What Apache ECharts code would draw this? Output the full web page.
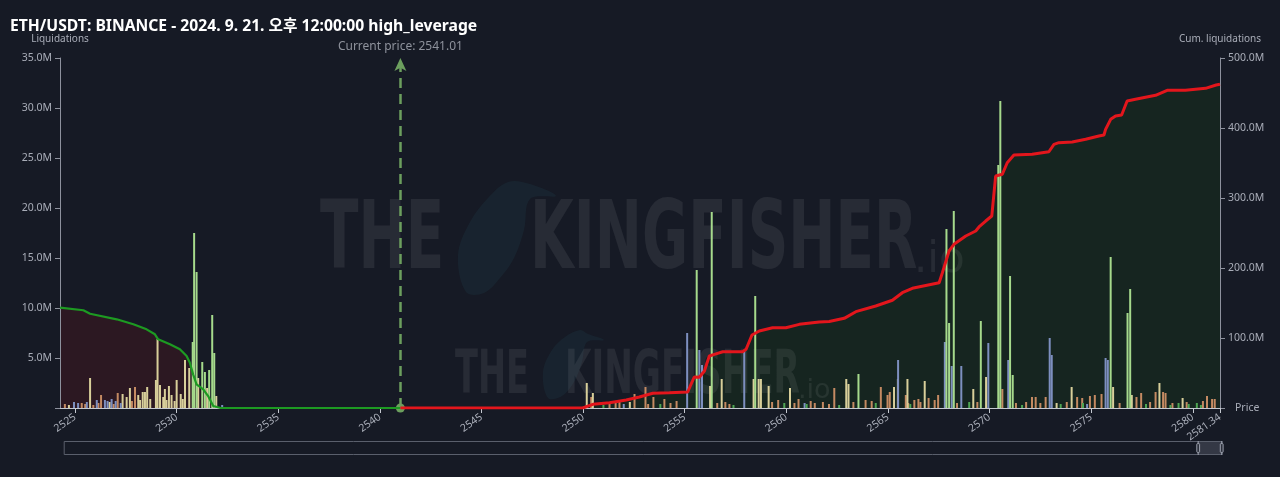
<!DOCTYPE html>
<html><head><meta charset="utf-8">
<script src="https://cdn.jsdelivr.net/npm/echarts@6/dist/echarts.min.js"></script>
<style>html,body{margin:0;padding:0;background:#161a25;}#c{width:1280px;height:477px;}</style>
</head><body><div id="c"></div>
<script>
const titleText = 'ETH/USDT: BINANCE - 2024. 9. 21. 오후 12:00:00 high_leverage';
const currentPrice = 2541.01;
const priceMin = 2524.26;
const priceMax = 2581.34;
const priceTicks = [2525, 2530, 2535, 2540, 2545, 2550, 2555, 2560, 2565, 2570, 2575, 2580, 2581.34];

// cumulative liquidations (M) below current price
const longCum = [[2524.26,143.5],[2525.41,139.6],[2525.74,134.7],[2527.05,126.7],[2527.87,119.6],[2528.52,112.4],[2528.93,105.3],[2529.09,98.1],[2529.67,91.0],[2530.16,83.9],[2530.49,74.3],[2530.65,64.7],[2530.81,48.1],[2530.98,33.9],[2531.31,26.7],[2531.55,17.1],[2531.80,2.9],[2532.13,0.3],[2541.01,0]];
// cumulative liquidations (M) above current price
const shortCum = [[2541.01,0],[2549.98,0],[2550.48,5.3],[2551.30,7.6],[2552.12,11.4],[2552.77,15.7],[2553.43,21.0],[2554.25,21.9],[2555.15,22.9],[2555.31,33.9],[2555.47,44.3],[2555.72,44.0],[2555.97,52.9],[2556.21,74.3],[2556.46,76.7],[2556.87,80.4],[2557.85,80.4],[2558.02,83.9],[2558.31,104.3],[2558.67,110.0],[2559.32,114.7],[2559.98,114.7],[2560.64,119.5],[2561.62,122.9],[2562.11,123.5],[2562.85,128.1],[2563.42,137.6],[2564.40,145.7],[2565.22,153.9],[2565.71,164.7],[2566.20,171.0],[2566.86,175.0],[2567.52,179.0],[2567.68,193.3],[2568.01,224.3],[2568.25,233.9],[2568.83,245.7],[2569.32,252.9],[2569.48,258.6],[2569.81,267.1],[2570.11,274.3],[2570.30,331.4],[2570.63,333.9],[2570.87,350.4],[2571.20,361.4],[2572.10,362.4],[2572.92,366.1],[2573.17,376.7],[2573.41,379.0],[2574.07,380.0],[2574.73,383.9],[2575.38,388.6],[2575.63,390.0],[2575.71,398.1],[2575.96,412.4],[2576.20,417.1],[2576.50,418.6],[2576.77,438.6],[2577.18,441.0],[2578.17,446.7],[2578.74,453.9],[2579.64,453.9],[2580.63,456.7],[2581.15,461.4],[2581.34,462.5]];

// liquidations per price level (M), grouped by colour
const barsGreen = [[2530.79,6.6],[2530.86,17.5],[2530.98,13.6],[2531.26,4.6],[2531.39,3.6],[2531.60,3.8],[2531.75,9.3],[2531.85,5.5],[2555.59,13.8],[2556.33,19.6],[2558.47,11.2],[2563.55,3.4],[2567.88,17.9],[2568.01,8.5],[2568.24,19.7],[2569.57,8.7],[2570.43,24.3],[2570.53,30.7],[2571.01,13.2],[2571.14,3.3],[2575.96,15.1],[2576.79,9.5],[2576.92,11.9]];
const barsBlue = [[2524.95,0.6],[2525.15,0.5],[2525.58,0.6],[2526.07,0.8],[2526.47,0.8],[2526.60,0.7],[2526.80,0.9],[2527.00,0.7],[2527.25,0.5],[2532.24,0.3],[2552.00,0.4],[2555.12,7.5],[2555.72,5.8],[2555.85,4.3],[2557.93,5.8],[2560.90,0.5],[2565.50,4.8],[2567.80,6.6],[2568.14,4.2],[2568.61,4.2],[2569.94,6.5],[2570.92,4.8],[2572.96,7.0],[2573.06,5.3],[2574.80,0.4],[2575.71,5.0],[2575.82,4.8]];
const barsKhaki = [[2524.70,0.3],[2525.74,3.0],[2526.70,0.6],[2527.34,1.4],[2527.54,1.1],[2527.70,2.0],[2528.11,1.3],[2528.20,0.8],[2528.33,1.6],[2528.44,1.6],[2528.55,2.1],[2528.70,0.9],[2528.98,2.8],[2529.06,6.9],[2529.18,2.3],[2529.34,1.1],[2529.42,1.9],[2529.50,0.8],[2529.62,2.2],[2529.75,1.3],[2529.90,0.7],[2530.00,2.8],[2530.20,1.4],[2530.30,0.9],[2530.41,4.8],[2530.62,4.0],[2531.06,3.0],[2531.50,2.0],[2531.95,1.2],[2550.18,2.5],[2550.48,1.5],[2552.30,0.6],[2556.25,2.2],[2556.82,2.9],[2558.39,2.9],[2558.64,2.9],[2558.75,2.9],[2559.13,2.2],[2560.18,2.0],[2562.95,2.9],[2563.06,2.4],[2565.30,2.1],[2565.49,2.9],[2565.96,2.9],[2566.81,2.7],[2569.20,1.9],[2569.83,3.1],[2573.30,0.5],[2574.04,2.1],[2576.08,2.1],[2577.00,1.3],[2578.36,2.5],[2579.50,1.0]];
const barsTan = [[2524.50,0.4],[2525.33,0.5],[2525.50,0.4],[2525.90,0.3],[2526.15,0.5],[2526.28,1.3],[2526.90,0.4],[2527.10,1.5],[2527.80,0.7],[2527.95,2.1],[2550.40,1.1],[2551.30,0.6],[2551.60,0.5],[2551.79,0.8],[2552.53,1.4],[2553.07,2.1],[2553.20,0.4],[2553.46,1.1],[2554.00,0.9],[2554.30,0.5],[2554.60,0.7],[2556.60,0.5],[2557.00,0.6],[2557.20,0.4],[2559.30,0.6],[2559.60,0.8],[2560.40,0.5],[2560.60,0.9],[2561.20,0.7],[2561.40,0.5],[2561.80,0.6],[2562.10,0.4],[2562.36,2.0],[2563.30,0.6],[2563.90,0.8],[2564.20,0.7],[2564.65,2.1],[2564.98,1.3],[2565.09,1.6],[2565.88,1.3],[2566.00,0.5],[2566.30,0.8],[2566.50,0.9],[2566.60,0.6],[2567.00,1.0],[2567.30,0.8],[2567.47,1.3],[2568.40,0.5],[2569.40,0.6],[2570.63,1.9],[2571.30,0.5],[2571.80,0.6],[2572.09,1.1],[2572.27,1.1],[2572.50,0.5],[2572.76,1.1],[2573.80,0.6],[2574.31,1.1],[2574.56,1.0],[2574.94,1.2],[2575.18,1.3],[2575.51,1.4],[2576.40,0.5],[2577.23,1.1],[2577.46,1.5],[2577.90,0.6],[2578.17,1.6],[2578.54,1.6],[2578.66,1.5],[2579.00,0.5],[2579.70,0.6],[2580.50,0.7],[2580.70,1.2],[2580.95,0.9],[2581.08,0.9]];
const barsSmallGreen = [[2551.00,0.3],[2553.80,0.4],[2557.40,0.3],[2559.90,0.5],[2561.00,0.4],[2562.60,0.3],[2564.40,0.5],[2566.10,0.4],[2569.00,0.6],[2571.60,0.3],[2573.50,0.4],[2574.60,0.5],[2577.70,0.4],[2578.90,0.3],[2579.30,0.5],[2579.80,0.4],[2580.20,0.5],[2580.40,0.3]];

const txt = '#a9adb8';
const font = '"Noto Sans", "Noto Sans CJK KR", sans-serif';
const chart = echarts.init(document.getElementById('c'));

function barSeries(name, data, color) {
  return { name, type: 'bar', data, xAxisIndex: 0, yAxisIndex: 0, barWidth: 2, barGap: '-100%',
    itemStyle: { color }, z: 3, silent: true, animation: false };
}
const wm = 'rgba(255,255,255,0.075)';
const birdFill = 'rgba(40,90,100,0.16)';
chart.setOption({
  backgroundColor: '#161a25',
  animation: false,
  textStyle: { fontFamily: font },
  title: { text: titleText, left: 5, top: 14, textStyle: { color: '#ffffff', fontSize: 15.7, fontWeight: 'bold', fontFamily: font } },
  grid: { left: 60, right: 60, top: 58, bottom: 69 },
  graphic: [
    { type: 'polygon', z: 1, silent: true, shape: { smooth: 0.35, points: [[466,292],[458,255],[470,222],[488,198],[508,182],[530,184],[556,196],[530,199],[524,230],[514,258],[500,278],[484,293]] }, style: { fill: birdFill } },
    { type: 'polygon', z: 1, silent: true, shape: { smooth: 0.35, points: [[548,398],[543,372],[552,350],[565,337],[580,330],[588,334],[604,340],[587,342],[582,362],[574,382],[562,396]] }, style: { fill: birdFill } },
    { type: 'text', x: 320, y: 197, scaleX: 0.6, z: 1, silent: true, style: { text: 'THE', font: 'bold 94px "DejaVu Sans"', fill: wm } },
    { type: 'text', x: 530, y: 197, scaleX: 0.6, z: 1, silent: true, style: { text: 'KINGFISHER', font: 'bold 94px "DejaVu Sans"', fill: wm } },
    { type: 'text', x: 914, y: 240, z: 1, silent: true, style: { text: '.io', font: '42px "DejaVu Sans"', fill: wm } },
    { type: 'text', x: 455, y: 347, scaleX: 0.56, z: 1, silent: true, style: { text: 'THE', font: 'bold 60px "DejaVu Sans"', fill: wm } },
    { type: 'text', x: 565, y: 347, scaleX: 0.57, z: 1, silent: true, style: { text: 'KINGFISHER', font: 'bold 60px "DejaVu Sans"', fill: wm } },
    { type: 'text', x: 798, y: 377, z: 1, silent: true, style: { text: '.io', font: '27px "DejaVu Sans"', fill: wm } }
  ],
  xAxis: [
    { type: 'value', min: priceMin, max: priceMax, name: 'Price', nameLocation: 'end', nameGap: 15,
      nameTextStyle: { color: txt, fontSize: 10.5, verticalAlign: 'middle' },
      axisLine: { lineStyle: { color: '#c4c8d0', width: 1 } },
      axisTick: { show: true, length: 5, lineStyle: { color: '#c4c8d0' }, customValues: priceTicks },
      axisLabel: { color: txt, fontSize: 10.5, rotate: 35, customValues: priceTicks, formatter: v => String(v) },
      splitLine: { show: false } },
    { type: 'value', show: false, min: 0, max: 100 }
  ],
  yAxis: [
    { type: 'value', min: 0, max: 35, interval: 5, position: 'left', name: 'Liquidations', nameGap: 14,
      nameTextStyle: { color: txt, fontSize: 10 },
      axisLine: { show: true, lineStyle: { color: '#8d919d' } },
      axisTick: { show: true, length: 5, lineStyle: { color: '#8d919d' } },
      axisLabel: { color: txt, fontSize: 10.5, formatter: v => v === 0 ? '' : v.toFixed(1) + 'M' },
      splitLine: { show: false } },
    { type: 'value', min: 0, max: 500, interval: 100, position: 'right', name: 'Cum. liquidations', nameGap: 14,
      nameTextStyle: { color: txt, fontSize: 10 },
      axisLine: { show: true, lineStyle: { color: '#8d919d' } },
      axisTick: { show: true, length: 5, lineStyle: { color: '#8d919d' } },
      axisLabel: { color: txt, fontSize: 10.5, formatter: v => v === 0 ? '' : v.toFixed(1) + 'M' },
      splitLine: { show: false } }
  ],
  dataZoom: [{ type: 'slider', xAxisIndex: 1, start: 97.8, end: 100, left: 63, right: 58, top: 441, height: 14,
    showDetail: false, showDataShadow: false, backgroundColor: 'rgba(0,0,0,0)', borderColor: '#5a5f6c',
    fillerColor: 'rgba(110,115,130,0.35)', handleStyle: { color: '#2a2e3a', borderColor: '#9ba0ad' },
    moveHandleSize: 7, moveHandleStyle: { color: '#5d6270', opacity: 1 }, brushSelect: false }],
  series: [
    { type: 'line', data: longCum, yAxisIndex: 1, showSymbol: false, lineStyle: { width: 0 }, areaStyle: { color: '#2c1822', opacity: 1 }, z: 0, silent: true },
    { type: 'line', data: shortCum, yAxisIndex: 1, showSymbol: false, lineStyle: { width: 0 }, areaStyle: { color: '#162520', opacity: 1 }, z: 0, silent: true },
    barSeries('tan', barsTan, '#c48a62'),
    barSeries('khaki', barsKhaki, '#d8cf9a'),
    barSeries('blue', barsBlue, '#7d8fbf'),
    barSeries('smallGreen', barsSmallGreen, '#4fa653'),
    barSeries('green', barsGreen, '#a6da8c'),
    { type: 'line', data: longCum, yAxisIndex: 1, showSymbol: false, lineStyle: { color: '#1d9a22', width: 2.2 }, z: 5, silent: true },
    { type: 'line', data: shortCum, yAxisIndex: 1, showSymbol: false, lineStyle: { color: '#e3161c', width: 3 }, z: 5, silent: true,
      markLine: { silent: true, symbol: ['circle', 'arrow'], symbolSize: [9, 13], precision: 2,
        lineStyle: { color: '#6c9f5e', type: [10, 6], width: 2.5 },
        label: { show: true, position: 'end', formatter: 'Current price: ' + currentPrice, color: '#8e929c', fontSize: 12, distance: 5 },
        data: [{ xAxis: currentPrice }] } }
  ]
});
</script>
</body></html>
